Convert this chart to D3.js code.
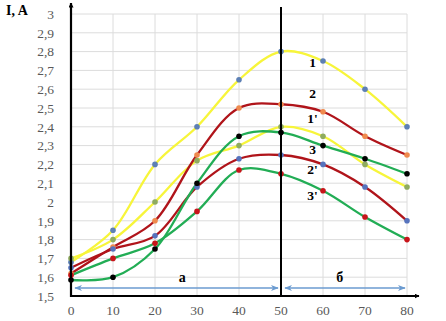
<!DOCTYPE html>
<html><head><meta charset="utf-8">
<script src="https://cdn.jsdelivr.net/npm/d3@7"></script>
<style>body{margin:0;background:#fff}svg{display:block}</style>
</head><body>
<svg id="c" width="446" height="321"></svg>
<script>
const xValues = [0,10,20,30,40,50,60,70,80];
const s1  = [1.68,1.85,2.20,2.40,2.65,2.80,2.75,2.60,2.40];
const s1p = [1.70,1.80,2.00,2.22,2.30,2.40,2.35,2.20,2.08];
const s2  = [1.62,1.76,1.90,2.25,2.50,2.52,2.48,2.35,2.25];
const s2p = [1.65,1.75,1.82,2.08,2.23,2.25,2.20,2.08,1.90];
const s3  = [1.585,1.60,1.75,2.10,2.35,2.37,2.30,2.23,2.15];
const s3p = [1.61,1.70,1.78,1.95,2.17,2.15,2.06,1.92,1.80];
const seriesNames = ["1","1'","2","2'","3","3'"];
const xTicks = [0,10,20,30,40,50,60,70,80];
const yTicks = [1.5,1.6,1.7,1.8,1.9,2.0,2.1,2.2,2.3,2.4,2.5,2.6,2.7,2.8,2.9,3.0];
const yTitle = "I, A";
const regionLabels = ["a","б"];
const regionX = [[0,50],[50,80]];
const labelAt = [[57.5,2.745],[57.5,2.447],[57.5,2.58],[57.5,2.175],[57.5,2.282],[57.5,2.037]];

const series = [
  {name:seriesNames[0], v:s1,  line:"#f7f53a", mark:"#5d80b5"},
  {name:seriesNames[1], v:s1p, line:"#f7f53a", mark:"#8fab5f"},
  {name:seriesNames[2], v:s2,  line:"#b0141a", mark:"#ef8a4e"},
  {name:seriesNames[3], v:s2p, line:"#b0141a", mark:"#5673bd"},
  {name:seriesNames[4], v:s3,  line:"#22ad55", mark:"#000000"},
  {name:seriesNames[5], v:s3p, line:"#22ad55", mark:"#c8141a"}
];

const svg = d3.select("#c");
const x = d3.scaleLinear().domain([0,80]).range([71,407]);
const y = d3.scaleLinear().domain([1.5,3]).range([296,14]);
const serif = "'Liberation Serif','Times New Roman',serif";

// grid
const g = svg.append("g");
g.selectAll("line.h").data(yTicks).join("line")
  .attr("x1",x(0)).attr("x2",x(80)).attr("y1",d=>y(d)).attr("y2",d=>y(d))
  .attr("stroke","#dcdcdc").attr("stroke-width",1);
g.selectAll("line.v").data(xTicks.slice(1)).join("line")
  .attr("x1",d=>x(d)).attr("x2",d=>x(d)).attr("y1",y(3)).attr("y2",y(1.5))
  .attr("stroke","#dcdcdc").attr("stroke-width",1);

// tick labels
const fmt = d => d3.format(".1~f")(d).replace(".",",");
svg.append("g").selectAll("text").data(yTicks).join("text")
  .attr("x",54).attr("y",d=>y(d)).attr("dy","0.35em").attr("text-anchor","end")
  .attr("font-family",serif).attr("font-size",13.5).attr("fill","#595959").text(fmt);
svg.append("g").selectAll("text").data(xTicks).join("text")
  .attr("x",d=>x(d)).attr("y",315).attr("text-anchor","middle")
  .attr("font-family",serif).attr("font-size",13.5).attr("fill","#595959").text(d=>d);

// defs
const defs = svg.append("defs");
defs.append("marker").attr("id","ab").attr("viewBox","0 0 10 10").attr("refX",9).attr("refY",5)
  .attr("markerWidth",5).attr("markerHeight",5).attr("orient","auto-start-reverse")
  .attr("markerUnits","userSpaceOnUse")
  .append("path").attr("d","M0,0L10,5L0,10z").attr("fill","#000");
defs.append("marker").attr("id","ar").attr("viewBox","0 0 10 10").attr("refX",9).attr("refY",5)
  .attr("markerWidth",8).attr("markerHeight",8).attr("orient","auto-start-reverse")
  .attr("markerUnits","userSpaceOnUse")
  .append("path").attr("d","M0,1L10,5L0,9L3,5z").attr("fill","#6b9bd0");

// region arrows
const ra = svg.append("g");
regionX.forEach((r,i)=>{
  ra.append("line").attr("x1",x(r[0])+4).attr("x2",x(r[1])-3 + (i===1?1:0))
    .attr("y1",288).attr("y2",288).attr("stroke","#6b9bd0").attr("stroke-width",1.6)
    .attr("marker-start","url(#ar)").attr("marker-end","url(#ar)");
});
ra.selectAll("text").data(regionLabels).join("text")
  .attr("x",(d,i)=>i===0?x(26.5):x(64)).attr("y",282).attr("text-anchor","middle")
  .attr("font-family",serif).attr("font-weight","bold").attr("font-size",14).text(d=>d);

// lines
const line = d3.line().x((d,i)=>x(xValues[i])).y(d=>y(d)).curve(d3.curveCatmullRom.alpha(0.5));
svg.append("g").selectAll("path").data(series).join("path")
  .attr("d",d=>line(d.v)).attr("fill","none").attr("stroke",d=>d.line).attr("stroke-width",2.3);

// markers
series.forEach(s=>{
  svg.append("g").selectAll("circle").data(s.v).join("circle")
    .attr("cx",(d,i)=>x(xValues[i])).attr("cy",d=>y(d)).attr("r",2.8).attr("fill",s.mark);
});

// axes
svg.append("line").attr("x1",x(0)).attr("x2",x(0)).attr("y1",y(1.5)+1).attr("y2",3)
  .attr("stroke","#000").attr("stroke-width",2.2).attr("marker-end","url(#ab)");
svg.append("line").attr("x1",x(0)-1).attr("x2",419).attr("y1",y(1.5)).attr("y2",y(1.5))
  .attr("stroke","#000").attr("stroke-width",2.2).attr("marker-end","url(#ab)");
svg.append("line").attr("x1",x(50)).attr("x2",x(50)).attr("y1",7).attr("y2",y(1.5))
  .attr("stroke","#000").attr("stroke-width",2);

// series labels
svg.append("g").selectAll("text").data(series).join("text")
  .attr("x",(d,i)=>x(labelAt[i][0])).attr("y",(d,i)=>y(labelAt[i][1])).attr("dy","0.35em")
  .attr("text-anchor","middle").attr("font-family",serif).attr("font-weight","bold")
  .attr("font-size",13.5).text(d=>d.name);

// y title
svg.append("text").attr("x",6).attr("y",15).attr("font-family",serif).attr("font-weight","bold")
  .attr("font-size",14).text(yTitle);
</script>
</body></html>
